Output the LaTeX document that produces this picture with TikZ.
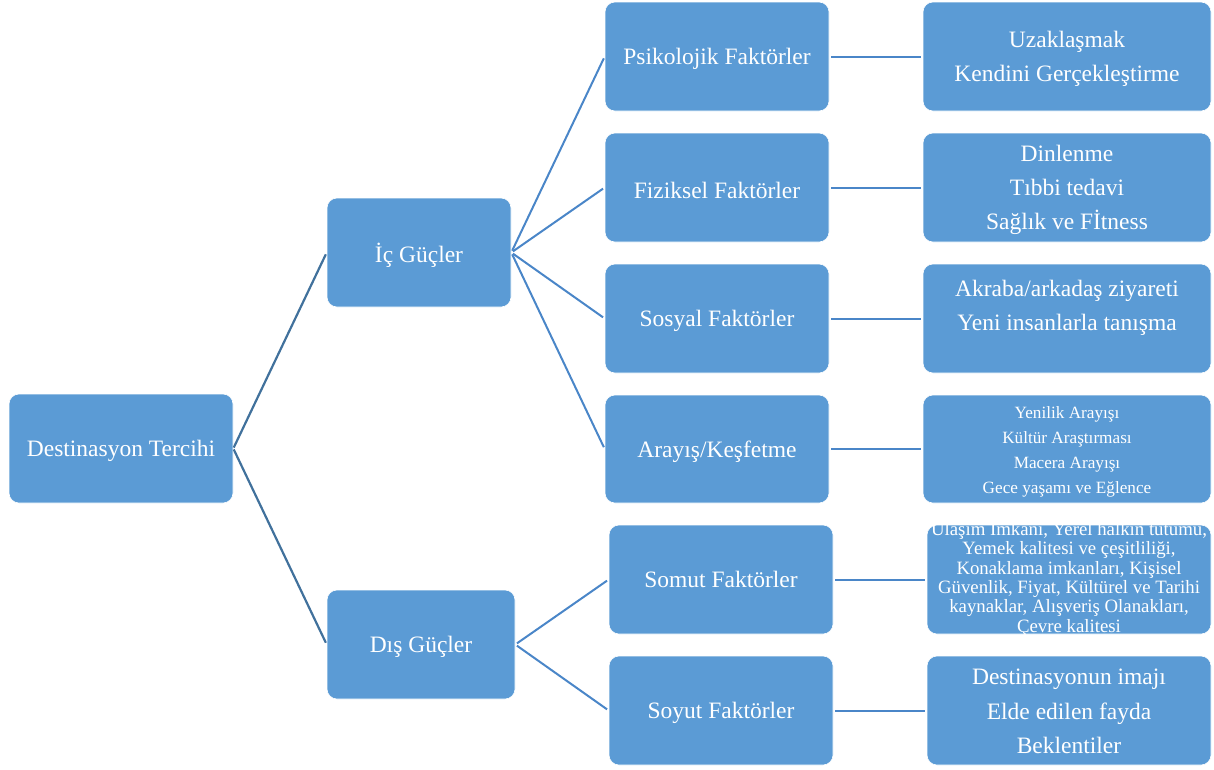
\documentclass[tikz,border=0pt]{standalone}
\usepackage{fontspec}
\setmainfont{Liberation Serif}
\definecolor{boxblue}{HTML}{5B9BD5}
\definecolor{linedark}{HTML}{41719C}
\definecolor{linemid}{HTML}{4A86C8}
\begin{document}
\begin{tikzpicture}[x=1pt,y=-1pt,
  box/.style={rounded corners=10pt, fill=boxblue, draw=white, line width=0.6pt,
    inner sep=0pt, minimum height=109pt},
  txt/.style={text=white, align=center, inner sep=0pt,
    font=\fontsize{23.5}{34}\selectfont},
  txtd/.style={txt, yshift=-2.5pt},
  smalltxt/.style={txtd, font=\fontsize{17.2}{25}\selectfont},
  densetxt/.style={txt, yshift=1.5pt, font=\fontsize{18.8}{19.4}\selectfont},
  wide/.style={minimum width=224pt},
  rbox/.style={minimum width=288pt},
  rboxn/.style={minimum width=284pt},
  conn/.style={draw=linemid, line width=2pt, shorten <=2pt, shorten >=2pt},
  conndark/.style={draw=linedark, line width=2.2pt, shorten <=1pt, shorten >=2pt}
]
\useasboundingbox (0,0) rectangle (1214,769);
% level 0
\node[box, wide, label={[txtd]center:Destinasyon Tercihi}] (dt) at (121,448.5) {};
% level 1
\node[box, minimum width=184pt, label={[txtd]center:İç Güçler}] (ic) at (419,252.5) {};
\node[box, minimum width=188pt, label={[txtd]center:Dış Güçler}] (dis) at (421,644.5) {};
% level 2
\node[box, wide, label={[txtd]center:Psikolojik Faktörler}] (psi) at (717,56.5) {};
\node[box, wide, label={[txtd]center:Fiziksel Faktörler}] (fiz) at (717,187.5) {};
\node[box, wide, label={[txtd]center:Sosyal Faktörler}] (sos) at (717,318.5) {};
\node[box, wide, minimum height=108pt, label={[txtd]center:Arayış/Keşfetme}] (ara) at (717,449) {};
\node[box, wide, label={[txt]center:Somut Faktörler}] (som) at (721,579.5) {};
\node[box, wide, label={[txtd]center:Soyut Faktörler}] (soy) at (721,710.5) {};
% level 3
\node[box, rbox, label={[txtd]center:{Uzaklaşmak\\Kendini Gerçekleştirme}}] (r1) at (1067,56.5) {};
\node[box, rbox, label={[txtd]center:{Dinlenme\\Tıbbi tedavi\\Sağlık ve Fİtness}}] (r2) at (1067,187.5) {};
\node[box, rbox, label={[txt, yshift=11pt]center:{Akraba/arkadaş ziyareti\\Yeni insanlarla tanışma}}] (r3) at (1067,318.5) {};
\node[box, rbox, minimum height=108pt, label={[smalltxt]center:{Yenilik Arayışı\\Kültür Araştırması\\Macera Arayışı\\Gece yaşamı ve Eğlence}}] (r4) at (1067,449) {};
\node[box, rboxn, label={[densetxt]center:{Ulaşım İmkanı, Yerel halkın tutumu,\\Yemek kalitesi ve çeşitliliği,\\Konaklama imkanları, Kişisel\\Güvenlik, Fiyat, Kültürel ve Tarihi\\kaynaklar, Alışveriş Olanakları,\\Çevre kalitesi}}] (r5) at (1069,579.5) {};
\node[box, rboxn, label={[txt, yshift=-1pt, font=\fontsize{23.5}{34.5}\selectfont]center:{Destinasyonun imajı\\Elde edilen fayda\\Beklentiler}}] (r6) at (1069,710.5) {};
% connectors
\draw[conndark] (dt.east) -- (ic.west);
\draw[conndark] (dt.east) -- (dis.west);
\draw[conn] (ic.east) -- (psi.west);
\draw[conn] (ic.east) -- (fiz.west);
\draw[conn] (ic.east) -- (sos.west);
\draw[conn] (ic.east) -- (ara.west);
\draw[conn] (dis.east) -- (som.west);
\draw[conn] (dis.east) -- (soy.west);
\draw[conn] (psi.east) -- (r1.west);
\draw[conn] (fiz.east) -- (r2.west);
\draw[conn] (sos.east) -- (r3.west);
\draw[conn] (ara.east) -- (r4.west);
\draw[conn] (som.east) -- (r5.west);
\draw[conn] (soy.east) -- (r6.west);
\end{tikzpicture}
\end{document}
